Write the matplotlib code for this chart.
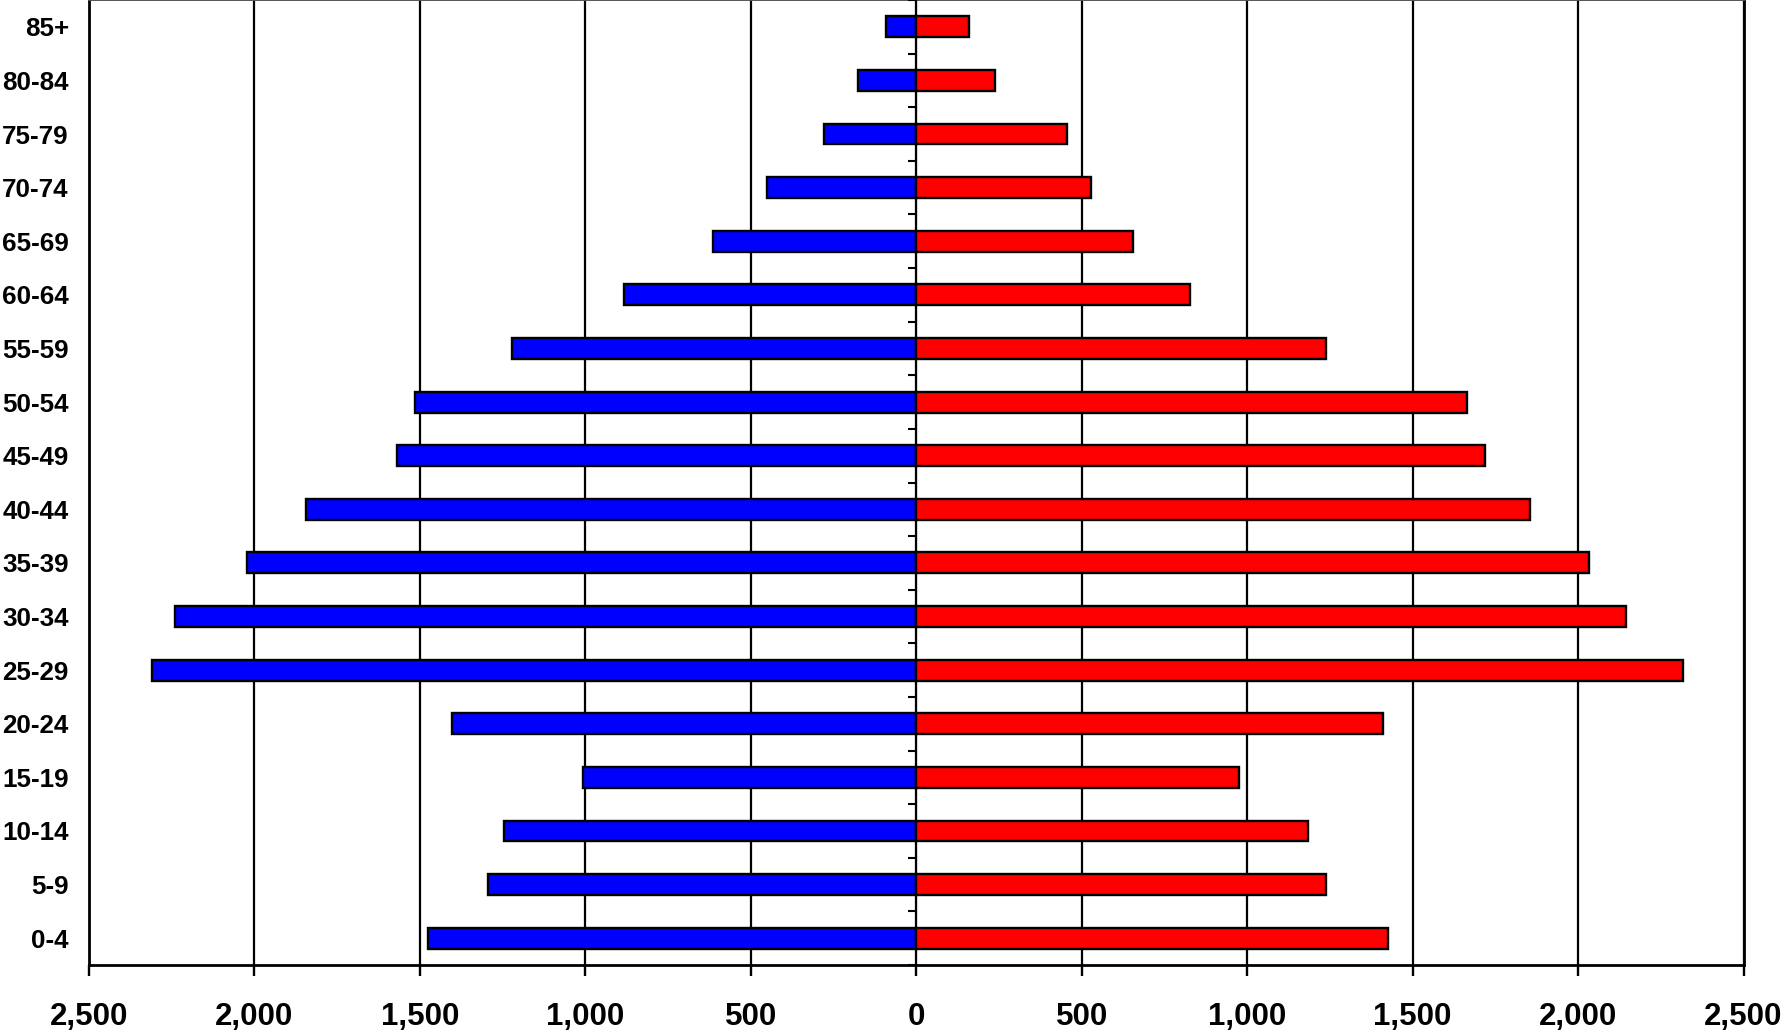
import matplotlib
matplotlib.use("Agg")
import matplotlib.pyplot as plt
import numpy as np

age_groups = ["0-4", "5-9", "10-14", "15-19", "20-24", "25-29", "30-34", "35-39", "40-44",
              "45-49", "50-54", "55-59", "60-64", "65-69", "70-74", "75-79", "80-84", "85+"]
male = [1477, 1295, 1245, 1007, 1403, 2310, 2241, 2022, 1845,
        1570, 1514, 1222, 884, 615, 450, 279, 175, 91]
female = [1427, 1238, 1183, 976, 1410, 2316, 2144, 2033, 1854,
          1720, 1665, 1238, 828, 656, 529, 456, 239, 160]
x_ticks = [-2500, -2000, -1500, -1000, -500, 0, 500, 1000, 1500, 2000, 2500]
x_labels = ["2,500", "2,000", "1,500", "1,000", "500", "0", "500", "1,000", "1,500", "2,000", "2,500"]

plt.rcParams["font.family"] = ["Liberation Sans", "DejaVu Sans"]
W, H = 1786, 1032
fig = plt.figure(figsize=(W / 100, H / 100), dpi=100)
ax = fig.add_axes([89 / W, 1 - 965 / H, (1743.5 - 89) / W, 965 / H])
y = np.arange(len(age_groups))
ax.barh(y, [-v for v in male], height=0.39, color="#0000ff", edgecolor="black", linewidth=1.7, zorder=3)
ax.barh(y, female, height=0.39, color="#ff0000", edgecolor="black", linewidth=1.7, zorder=3)
ax.set_xlim(-2500, 2500)
ax.set_ylim(-0.5, len(age_groups) - 0.5)

ax.set_xticks(x_ticks)
ax.set_xticklabels(x_labels, fontsize=22.5, fontweight="bold")
ax.tick_params(axis="x", length=8, width=1.7, pad=18.5, color="black")
ax.grid(axis="x", color="black", linewidth=1.6, zorder=1)

ax.set_yticks(y)
ax.set_yticklabels(age_groups, fontsize=18.7, fontweight="bold")
ax.tick_params(axis="y", length=0, pad=14.5)

for s in ["left", "right", "bottom"]:
    ax.spines[s].set_linewidth(2.0)
    ax.spines[s].set_color("black")
ax.spines["top"].set_linewidth(1.4)
ax.spines["top"].set_color("#555555")

sec = ax.secondary_yaxis(0.5)
sec.set_yticks(np.arange(len(age_groups) + 1) - 0.5)
sec.set_yticklabels([])
sec.tick_params(axis="y", direction="in", length=6, width=1.5, color="black")
sec.spines["left"].set_linewidth(2.0)
sec.set_zorder(5)

fig.savefig("out.png", dpi=100, facecolor="white")
